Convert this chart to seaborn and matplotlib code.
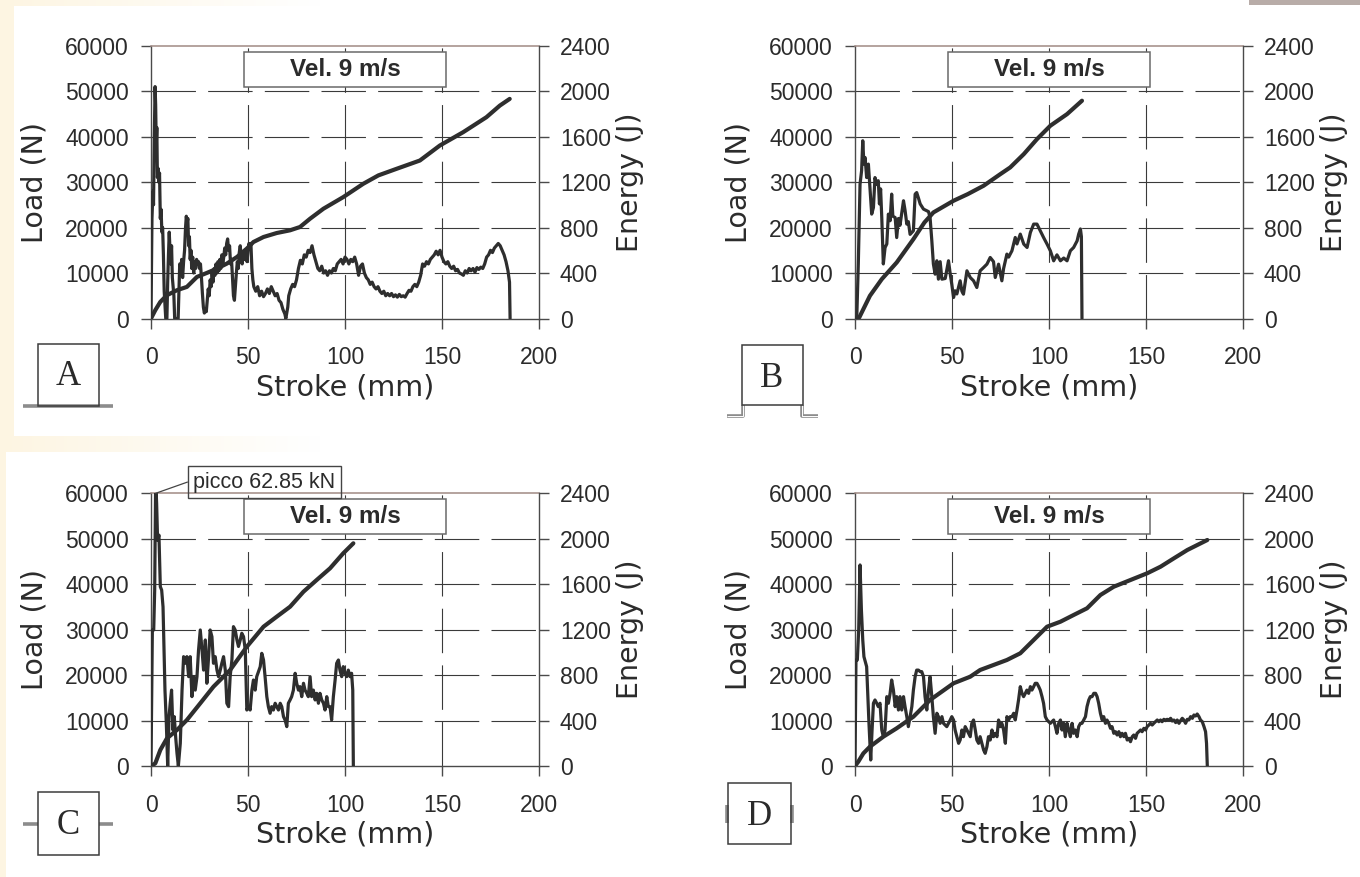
import numpy as np
import pandas as pd
import matplotlib
matplotlib.use("Agg")
import matplotlib.pyplot as plt
import seaborn as sns
from matplotlib.patches import Rectangle

# ---------------------------------------------------------------------------
# Crash tests at 9 m/s: load (N) and absorbed energy (J) versus stroke (mm)
# ---------------------------------------------------------------------------
STROKE_TICKS = [0, 50, 100, 150, 200]
LOAD_TICKS = [0, 10000, 20000, 30000, 40000, 50000, 60000]
ENERGY_TICKS = [0, 400, 800, 1200, 1600, 2000, 2400]
PANEL_LABELS = ["A", "B", "C", "D"]
SPEED_LABEL = "Vel. 9 m/s"
PEAK_LABEL = "picco 62.85 kN"

# --- profile A ---
A_STROKE = [0, 0.5, 1.0, 1.3, 1.7, 2.1, 2.4, 2.7, 3.0, 3.3,
            3.7, 4.0, 4.4, 4.8, 5.2, 5.6, 6.0, 6.4, 6.8, 7.2,
            7.6, 8.2, 8.6, 9.0, 9.4, 9.8, 10.2, 10.6, 11.0, 11.4,
            11.8, 12.2, 14.0, 14.4, 14.8, 15.3, 15.8, 16.3, 16.8, 17.3,
            17.8, 18.2, 18.6, 19.0, 19.4, 19.8, 20.2, 20.6, 21.0, 21.5,
            22.0, 22.5, 23.0, 23.5, 24.0, 24.5, 25.0, 25.5, 26.0, 26.5,
            27.0, 27.5, 28.0, 28.5, 29.0, 29.5, 30.0, 30.5, 31.0, 31.5,
            32.0, 32.5, 33.0, 33.5, 34.0, 34.5, 35.0, 35.5, 36.0, 36.5,
            37.0, 37.5, 38.0, 38.5, 39.0, 39.5, 40.0, 40.5, 41.0, 41.5,
            42.0, 42.5, 43.0, 43.5, 44.0, 44.5, 45.0, 45.5, 46.0, 46.5,
            47.0, 47.5, 48.0, 48.5, 49.0, 49.5, 50.0, 50.5, 51.0, 51.5,
            52.0, 52.5, 53.0, 54.0, 55.0, 56.0, 57.0, 58.0, 59.0, 60.0,
            61.0, 62.0, 63.0, 64.0, 65.0, 66.0, 67.0, 68.0, 69.0, 69.5,
            70.5, 71.0, 72.0, 73.0, 74.0, 75.0, 76.0, 77.0, 78.0, 79.0,
            80.0, 81.0, 82.0, 83.0, 84.0, 85.0, 86.0, 87.0, 88.0, 89.0,
            90.0, 91.0, 92.0, 93.0, 94.0, 95.0, 96.0, 97.0, 98.0, 99.0,
            100.0, 101.0, 102.0, 103.0, 104.0, 105.0, 106.0, 107.0, 108.0, 109.0,
            110.0, 111.0, 112.0, 113.0, 114.0, 115.0, 116.0, 117.0, 118.0, 119.0,
            120.0, 121.0, 122.0, 123.0, 124.0, 125.0, 126.0, 127.0, 128.0, 129.0,
            130.0, 131.0, 132.0, 133.0, 134.0, 135.0, 136.0, 137.0, 138.0, 139.0,
            140.0, 141.0, 142.0, 143.0, 144.0, 145.0, 146.0, 147.0, 148.0, 149.0,
            150.0, 151.0, 152.0, 153.0, 154.0, 155.0, 156.0, 157.0, 158.0, 159.0,
            160.0, 161.0, 162.0, 163.0, 164.0, 165.0, 166.0, 167.0, 168.0, 169.0,
            170.0, 171.0, 172.0, 173.0, 174.0, 175.0, 176.0, 177.0, 178.0, 179.0,
            180.0, 181.0, 182.0, 183.0, 184.0, 184.8, 185.1]
A_LOAD = [0, 22000, 28000, 25000, 40000, 51000, 47000, 38000, 42000, 31000,
          33000, 30000, 32000, 22000, 24000, 19000, 20000, 14000, 6000, 3000,
          0, 0, 8000, 14000, 19000, 15000, 12000, 16000, 9000, 7000,
          5000, 0, 0, 6000, 12000, 10000, 13000, 9000, 12500, 15000,
          20000, 22500, 21000, 22000, 16000, 18000, 13000, 15000, 11000, 13500,
          10000, 12500, 11000, 13000, 12000, 12500, 11000, 12000, 9000, 5500,
          2500, 1200, 2000, 1500, 4000, 6500, 5000, 8500, 7000, 10000,
          8000, 11000, 9500, 12000, 10000, 12500, 10500, 13000, 11000, 14000,
          12000, 13500, 15500, 14000, 16500, 17500, 15000, 16000, 12000, 13000,
          9000, 5000, 4000, 7000, 10000, 12500, 11000, 14500, 16000, 13500,
          12000, 14000, 13000, 15000, 14000, 12500, 15000, 16500, 15500, 16500,
          11000, 8500, 7000, 6000, 7000, 5000, 6000, 4800, 5500, 6500,
          5500, 7000, 6000, 5000, 5500, 4000, 3500, 2000, 1000, 0,
          2500, 5000, 6500, 7500, 7000, 8500, 11000, 12800, 12000, 14000,
          13500, 15000, 14500, 16000, 14000, 12500, 11000, 10500, 11500, 10000,
          10500, 9500, 10500, 10000, 11000, 10500, 12000, 12500, 13000, 12000,
          13500, 13000, 12000, 13000, 12500, 13500, 12000, 9500, 11500, 12000,
          10000, 9000, 8500, 7500, 8000, 7000, 6500, 7000, 6000, 5500,
          6000, 5000, 5500, 5000, 5500, 4800, 5200, 4700, 5300, 4800,
          5000, 4700, 5500, 6200, 6000, 7000, 7500, 7000, 8000, 9500,
          12000, 11500, 12500, 12000, 13000, 13500, 14000, 14800, 14000, 15000,
          13500, 12500, 12000, 12500, 11500, 11000, 11500, 10500, 10800, 10000,
          9800, 9500, 10500, 10000, 11000, 10500, 11000, 10200, 11200, 10800,
          11300, 11000, 12000, 13500, 14000, 15000, 14500, 15500, 16000, 16500,
          16000, 15000, 14000, 12500, 10500, 8000, 0]
A_E_STROKE = [0, 2.2, 4.8, 8.2, 13.4, 18.5, 23.7, 28.8, 34.0, 39.1,
              44.3, 49.4, 52.8, 58.0, 64.8, 71.7, 76.8, 82.0, 88.9, 99.1,
              109.4, 117.2, 126.6, 138.6, 148.9, 160.9, 172.9, 179.8, 184.9]
A_ENERGY = [0, 73, 146, 205, 249, 278, 366, 401, 439, 483,
            541, 615, 673, 717, 752, 776, 805, 878, 966, 1068,
            1185, 1259, 1317, 1390, 1522, 1639, 1771, 1873, 1932]

# --- profile B ---
B_STROKE = [0, 0.9, 1.7, 2.6, 3.4, 4.0, 4.6, 5.2, 6.0, 6.9,
            7.7, 8.6, 9.5, 10.3, 11.2, 12.0, 12.6, 13.2, 13.8, 14.6,
            15.5, 16.4, 17.2, 18.1, 18.9, 19.5, 20.7, 21.5, 22.4, 23.2,
            25.0, 25.8, 26.7, 27.5, 28.4, 30.1, 31.0, 31.8, 32.7, 33.6,
            35.3, 37.0, 37.9, 38.7, 39.6, 40.4, 41.3, 42.2, 43.0, 43.9,
            44.8, 46.5, 48.2, 49.1, 49.9, 50.8, 51.6, 52.5, 54.2, 55.1,
            55.9, 57.7, 59.4, 61.1, 62.8, 64.5, 66.3, 68.0, 69.7, 71.4,
            72.3, 74.0, 75.7, 76.6, 78.3, 79.2, 80.9, 82.6, 83.5, 85.2,
            87.0, 88.7, 90.4, 92.1, 93.8, 95.5, 97.2, 99.0, 100.7, 102.4,
            104.1, 105.9, 107.6, 109.3, 111.0, 112.7, 114.5, 115.3, 116.2, 116.7,
            117.0]
B_LOAD = [0, 0, 11950, 29560, 32500, 39100, 33960, 35400, 31000, 33960,
          28800, 22960, 24400, 31000, 29500, 30300, 25200, 28500, 22200, 12000,
          15600, 16400, 22960, 21500, 27360, 22500, 22200, 17800, 22000, 20500,
          25900, 23800, 20760, 21300, 18500, 19300, 27360, 27700, 26500, 25200,
          24060, 23700, 23500, 22200, 17100, 12000, 9750, 12700, 8650, 12500,
          8650, 8800, 12700, 9750, 7500, 4620, 6090, 5400, 8290, 6000,
          5350, 10490, 9020, 8300, 6820, 10490, 11220, 11950, 13420, 12500,
          9020, 11950, 8290, 11000, 14160, 13500, 14900, 17820, 16400, 18560,
          16360, 15620, 18920, 20760, 20760, 19290, 17820, 16360, 14890, 12690,
          14000, 12690, 13300, 12690, 14890, 15620, 17090, 18560, 19700, 18000,
          0]
B_E_STROKE = [0, 2.2, 4.3, 7.7, 13.8, 21.5, 30.1, 35.8, 40.4, 50.8,
              58.1, 66.3, 74.9, 80.0, 87.0, 93.8, 100.7, 109.3, 117.0]
B_ENERGY = [0, 9, 82, 200, 346, 493, 698, 845, 933, 1036,
            1094, 1168, 1270, 1329, 1446, 1578, 1696, 1798, 1916]

# --- profile C ---
C_STROKE = [0, 0.7, 1.4, 1.9, 2.4, 2.9, 3.4, 4.1, 4.8, 5.5,
            6.2, 6.5, 7.2, 7.9, 8.6, 9.3, 9.9, 10.6, 11.3, 12.0,
            12.7, 13.4, 14.1, 15.1, 16.0, 16.8, 17.7, 18.5, 19.4, 20.2,
            21.1, 22.0, 22.8, 23.7, 24.5, 25.4, 26.3, 27.1, 28.0, 28.8,
            29.7, 30.5, 31.4, 32.2, 33.1, 34.0, 34.8, 35.7, 36.5, 37.4,
            38.3, 39.1, 40.0, 40.8, 41.7, 42.5, 43.4, 44.3, 45.1, 46.0,
            46.8, 47.7, 48.6, 49.4, 50.3, 51.1, 52.0, 52.8, 53.7, 54.5,
            56.3, 57.1, 58.0, 58.8, 59.7, 60.5, 61.4, 62.2, 63.1, 64.0,
            64.8, 65.7, 66.6, 67.4, 68.3, 69.1, 70.0, 70.8, 71.7, 72.5,
            73.4, 74.3, 75.1, 76.0, 76.8, 77.7, 78.6, 79.4, 80.3, 81.1,
            82.0, 82.8, 83.7, 84.6, 85.4, 86.3, 87.1, 88.0, 88.9, 89.7,
            90.6, 91.4, 92.3, 93.1, 94.0, 94.9, 95.7, 96.6, 97.4, 98.3,
            99.1, 100.0, 100.9, 101.7, 102.6, 103.4, 104.0, 104.3]
C_LOAD = [0, 29930, 29930, 38700, 62850, 57800, 49700, 50800, 39460, 38700,
          35000, 29200, 16700, 9400, 0, 10860, 13800, 16700, 7900, 10860,
          6450, 2790, 0, 5000, 16700, 24060, 22600, 24060, 19660, 24060,
          15260, 19660, 16700, 19660, 25500, 29930, 25500, 21100, 27730, 18200,
          24060, 29930, 28460, 22600, 24060, 21100, 19660, 21100, 22600, 24060,
          21100, 13800, 13060, 19660, 23320, 30660, 29930, 27730, 26300, 27730,
          29200, 28460, 25500, 12320, 13060, 12320, 16700, 18920, 16700, 19660,
          21860, 24790, 23320, 19660, 15260, 13060, 11600, 13060, 12320, 13800,
          13060, 12320, 13800, 13060, 10860, 10120, 8660, 13800, 14530, 15260,
          16700, 20400, 18200, 16700, 17460, 15260, 18200, 16700, 15990, 15260,
          19660, 15260, 16700, 14530, 15990, 13800, 15990, 14530, 13800, 12320,
          15260, 13060, 13060, 10120, 15260, 18920, 22600, 23320, 21100, 19660,
          21860, 20400, 19660, 21100, 19660, 20400, 16700, 0]
C_E_STROKE = [0, 2.2, 4.8, 8.2, 13.4, 18.5, 25.4, 32.2, 40.8, 49.4,
              58.0, 64.8, 71.7, 78.6, 85.4, 92.3, 99.1, 104.3]
C_ENERGY = [0, 23, 141, 243, 317, 405, 552, 698, 845, 1050,
            1226, 1314, 1402, 1534, 1637, 1740, 1872, 1960]
C_PEAK_STROKE = 2.4

# --- profile D ---
D_STROKE = [0, 0.5, 1.2, 1.9, 2.6, 3.3, 4.0, 4.6, 5.5, 6.0,
            6.5, 7.2, 8.1, 8.8, 9.5, 10.3, 11.2, 12.0, 12.9, 13.8,
            14.6, 15.5, 16.4, 17.2, 18.1, 18.9, 19.8, 20.7, 21.5, 22.4,
            23.2, 24.1, 25.0, 25.8, 26.7, 27.5, 28.4, 29.3, 30.1, 31.0,
            31.8, 32.7, 33.6, 34.4, 35.3, 36.1, 37.0, 37.9, 38.7, 39.6,
            40.4, 41.3, 42.2, 43.0, 43.9, 44.8, 45.6, 47.3, 49.1, 49.9,
            50.8, 51.6, 52.5, 53.4, 54.2, 55.1, 55.9, 56.8, 57.7, 59.4,
            60.2, 61.1, 62.0, 62.8, 63.7, 64.5, 65.4, 66.3, 67.1, 68.0,
            68.8, 69.7, 70.6, 71.4, 72.3, 73.2, 74.0, 74.9, 75.7, 76.6,
            77.5, 78.3, 79.2, 80.0, 80.9, 81.8, 82.6, 83.5, 84.3, 85.2,
            86.1, 86.9, 87.8, 88.6, 89.5, 90.4, 91.2, 92.1, 92.9, 93.8,
            94.7, 95.5, 96.4, 97.2, 98.1, 99.0, 100.7, 102.4, 103.3, 104.1,
            105.0, 105.9, 106.7, 107.6, 108.4, 109.3, 110.2, 111.0, 111.9, 112.7,
            113.6, 114.5, 115.3, 116.2, 117.0, 117.9, 118.8, 119.6, 120.5, 121.3,
            122.2, 123.1, 124.0, 124.8, 125.6, 126.5, 127.4, 128.2, 129.1, 129.9,
            130.8, 131.7, 132.5, 133.4, 134.3, 135.1, 136.0, 136.8, 137.7, 138.6,
            139.4, 140.3, 141.2, 142.0, 142.9, 143.7, 144.6, 145.4, 146.3, 147.2,
            148.0, 148.9, 149.8, 150.6, 151.5, 152.3, 153.2, 154.0, 154.9, 155.8,
            156.6, 157.5, 158.3, 159.2, 160.1, 160.9, 161.8, 162.7, 163.5, 164.4,
            165.3, 166.1, 167.0, 167.8, 168.7, 169.5, 170.4, 171.3, 172.1, 173.0,
            173.9, 174.7, 175.6, 176.4, 177.3, 178.1, 179.0, 179.9, 180.7, 181.2,
            181.6]
D_LOAD = [0, 23320, 23320, 29930, 44230, 34330, 27730, 24060, 22600, 21860,
          16700, 9390, 1320, 7920, 13800, 14530, 13800, 13060, 13800, 7920,
          6450, 7920, 15260, 13800, 15990, 18920, 16700, 13060, 15260, 12320,
          15260, 12320, 15260, 13060, 10860, 8660, 10860, 13060, 16700, 19660,
          21100, 21100, 20760, 20760, 19660, 15260, 12320, 16700, 19660, 15260,
          10860, 7190, 11600, 10860, 9390, 10860, 9390, 8660, 10120, 10860,
          10120, 7920, 6450, 4990, 5720, 7920, 6450, 8660, 7920, 6450,
          9390, 10120, 7920, 5720, 4990, 6450, 4990, 3520, 2790, 4250,
          6450, 5720, 7920, 6450, 7190, 6450, 10120, 8660, 9390, 7920,
          4990, 10860, 10120, 10860, 10860, 11600, 10120, 12320, 14530, 17460,
          15990, 15260, 15990, 16700, 15990, 17460, 16700, 17460, 18190, 18190,
          17460, 16700, 15260, 13800, 10860, 10120, 9390, 10120, 8660, 7190,
          9390, 10120, 7920, 9390, 6450, 9390, 7920, 6450, 9390, 7190,
          7920, 6450, 8660, 9390, 9390, 10120, 10860, 13060, 14530, 15260,
          15260, 15990, 15990, 15260, 13800, 11600, 10120, 10860, 9390, 10120,
          9390, 8290, 8660, 7190, 7550, 6820, 7550, 6450, 7190, 6450,
          7190, 5720, 6090, 5350, 6450, 6820, 6090, 7190, 7550, 7920,
          7550, 8290, 7920, 8660, 9020, 9390, 9020, 9390, 9750, 10120,
          9750, 10120, 9750, 10270, 9980, 10270, 10120, 10490, 9900, 10120,
          9550, 10120, 9390, 9980, 10490, 10120, 9390, 10270, 10120, 10860,
          10490, 11220, 11000, 11440, 10860, 10120, 9750, 8660, 7550, 4990,
          0]
D_E_STROKE = [0, 1.7, 4.3, 7.7, 14.6, 21.5, 30.1, 38.7, 50.8, 59.4,
              64.5, 71.4, 78.3, 85.2, 92.1, 99.0, 105.9, 112.7, 119.6, 126.5,
              133.4, 142.0, 150.6, 157.5, 164.4, 171.3, 181.6]
D_ENERGY = [0, 38, 111, 170, 258, 332, 434, 581, 728, 786,
            845, 889, 933, 992, 1109, 1226, 1270, 1329, 1388, 1505,
            1578, 1637, 1696, 1754, 1828, 1901, 1989]

# ---------------------------------------------------------------------------
sns.set_theme(style="white")
plt.rcParams["font.family"] = ["Liberation Sans", "DejaVu Sans"]

W, H = 1360, 877
fig = plt.figure(figsize=(W / 100, H / 100), dpi=100)
fig.patch.set_facecolor("white")

INK = "#2e2e2e"
AXIS = "#4a4a4a"
GRID = "#3a3a3a"
FRAME_TOP = "#a08a84"

# slide background: pale cream margins and a grey tab in the top-right corner
bg = fig.add_axes([0, 0, 1, 1], zorder=-10)
bg.set_xlim(0, W)
bg.set_ylim(H, 0)
bg.axis("off")
cream = np.array([253, 245, 226]) / 255.0
weight = np.zeros((H, W))
fade = np.clip(1.0 - np.arange(W) / 320.0, 0, 1)
weight[0:6, :] = np.maximum(weight[0:6, :], fade)
weight[436:452, :] = np.maximum(weight[436:452, :], fade)
weight[:436, 0:14] = 1.0
weight[:, 0:6] = 1.0
img = np.ones((H, W, 3)) * (1 - weight[..., None]) + cream * weight[..., None]
img[0:5, 1249:] = np.array([184, 172, 168]) / 255.0
bg.imshow(img, extent=(0, W, H, 0), aspect="auto", interpolation="nearest", zorder=0)


def profile_box(x0, y0, x1, y1):
    bg.add_patch(Rectangle((x0, y0), x1 - x0, y1 - y0, fill=False,
                           ec="#3c3c3c", lw=1.1, zorder=3))


def ground(xs, ys, double=False):
    bg.plot(xs, ys, color="#8c8c8c", lw=2.6, solid_capstyle="butt", zorder=2)
    if double:
        bg.plot(xs, ys, color="white", lw=0.7, solid_capstyle="butt", zorder=2.5)


# cross-section sketches of the four profiles
profile_box(38, 344, 99, 406)
ground([23, 113], [406, 406])
profile_box(742, 345, 803, 405)
ground([727, 743, 743], [416, 416, 405], double=True)
ground([802, 802, 818], [405, 416, 416], double=True)
profile_box(38, 792, 99, 855)
ground([23, 38], [824, 824])
ground([99, 113], [824, 824])
profile_box(728, 783, 791, 844)
ground([727, 727], [805, 823])
ground([792, 792], [805, 823])

label_pos = [(68, 385), (772, 387), (68, 834), (759, 825)]
for lab, (lx, ly) in zip(PANEL_LABELS, label_pos):
    bg.text(lx, ly, lab, fontfamily="Liberation Serif", fontsize=25,
            ha="center", va="baseline", color="#2a2a2a", zorder=4)


def add_panel(x0, x1, yt, yb, s_load, load, s_en, energy, peak_stroke=None):
    ax = fig.add_axes([x0 / W, 1 - yb / H, (x1 - x0) / W, (yb - yt) / H])
    ax.set_facecolor("white")

    # dashed reference grid
    for v in LOAD_TICKS[1:-1]:
        ax.axhline(v, color=GRID, lw=0.8, dashes=(40, 11), zorder=1)
    for v in STROKE_TICKS[1:-1]:
        ax.axvline(v, color=GRID, lw=0.8, dashes=(40, 11), zorder=1)

    df_load = pd.DataFrame({"Stroke": s_load, "Load": load})
    sns.lineplot(data=df_load, x="Stroke", y="Load", ax=ax, sort=False,
                 estimator=None, color=INK, lw=2.3, zorder=3)

    ax.set_xlim(STROKE_TICKS[0], STROKE_TICKS[-1])
    ax.set_ylim(LOAD_TICKS[0], LOAD_TICKS[-1])
    ax.set_xticks(STROKE_TICKS)
    ax.set_xticklabels([str(v) for v in STROKE_TICKS])
    ax.set_yticks(LOAD_TICKS)
    ax.set_yticklabels([str(v) for v in LOAD_TICKS])
    ax.tick_params(axis="y", direction="out", length=7, width=1, color=AXIS,
                   pad=9, labelsize=16.5, labelcolor="#2b2b2b", left=True, right=False)
    ax.tick_params(axis="x", direction="out", length=7, width=1, color=AXIS,
                   pad=13, labelsize=16.5, labelcolor="#2b2b2b", bottom=True, top=False)
    for side in ("left", "bottom"):
        ax.spines[side].set_color(AXIS)
        ax.spines[side].set_linewidth(1.0)
    ax.spines["top"].set_color(FRAME_TOP)
    ax.spines["top"].set_linewidth(1.1)
    ax.spines["right"].set_visible(False)
    ax.set_xlabel("Stroke (mm)", fontfamily="DejaVu Sans", fontsize=20.5,
                  color="#2b2b2b", labelpad=3)
    ax.set_ylabel("Load (N)", fontfamily="DejaVu Sans", fontsize=20.5,
                  color="#2b2b2b", labelpad=12)

    ax2 = ax.twinx()
    df_en = pd.DataFrame({"Stroke": s_en, "Energy": energy})
    sns.lineplot(data=df_en, x="Stroke", y="Energy", ax=ax2, sort=False,
                 estimator=None, color=INK, lw=3.0, zorder=3,
                 solid_capstyle="round")
    ax2.set_xlim(STROKE_TICKS[0], STROKE_TICKS[-1])
    ax2.set_ylim(ENERGY_TICKS[0], ENERGY_TICKS[-1])
    ax2.set_yticks(ENERGY_TICKS)
    ax2.set_yticklabels([str(v) for v in ENERGY_TICKS])
    ax2.tick_params(axis="y", direction="out", length=7, width=1, color=AXIS,
                    pad=8, labelsize=16.5, labelcolor="#2b2b2b", right=True, left=False)
    for side in ("left", "top", "bottom"):
        ax2.spines[side].set_visible(False)
    ax2.spines["right"].set_color(AXIS)
    ax2.spines["right"].set_linewidth(1.0)
    ax2.set_ylabel("Energy (J)", fontfamily="DejaVu Sans", fontsize=20.5,
                   color="#2b2b2b", labelpad=4)

    # test-speed caption box
    ax2.add_patch(Rectangle((0.24, 0.849), 0.52, 0.129, transform=ax2.transAxes,
                            facecolor="white", edgecolor="#6a6a6a", lw=1.1, zorder=6))
    ax2.text(0.5, 0.9135, SPEED_LABEL, transform=ax2.transAxes, ha="center",
             va="center", fontsize=17.5, fontweight="bold", color="#2b2b2b", zorder=7)

    if peak_stroke is not None:
        ax2.annotate(PEAK_LABEL, xy=(peak_stroke, LOAD_TICKS[-1]), xycoords=ax.transData,
                     xytext=(0.109, 1.041), textcoords="axes fraction",
                     ha="left", va="center", fontsize=15.5, color="#2b2b2b",
                     bbox=dict(boxstyle="square,pad=0.25", fc="none", ec="#444444", lw=1.0),
                     arrowprops=dict(arrowstyle="-", color="#444444", lw=0.9,
                                     shrinkA=0, shrinkB=0, relpos=(0, 0.6)),
                     annotation_clip=False, zorder=7)
    return ax, ax2


add_panel(151, 539, 45.7, 318.5, A_STROKE, A_LOAD, A_E_STROKE, A_ENERGY)
add_panel(855, 1243, 45.7, 318.5, B_STROKE, B_LOAD, B_E_STROKE, B_ENERGY)
add_panel(151, 539, 493.3, 766, C_STROKE, C_LOAD, C_E_STROKE, C_ENERGY,
          peak_stroke=C_PEAK_STROKE)
add_panel(855, 1243, 493.3, 766, D_STROKE, D_LOAD, D_E_STROKE, D_ENERGY)

fig.savefig("out.png", dpi=100, facecolor=fig.get_facecolor())
